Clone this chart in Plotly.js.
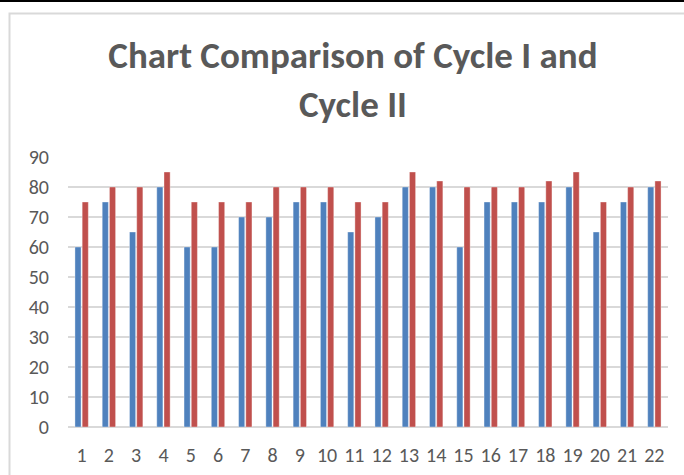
<!DOCTYPE html>
<html>
<head>
<meta charset="utf-8">
<script src="https://cdn.plot.ly/plotly-3.0.1.min.js"></script>
<style>
html,body{margin:0;padding:0;background:#fff;}
#chart{width:684px;height:475px;}
</style>
</head>
<body>
<div id="chart"></div>
<script>
const categories = ["1","2","3","4","5","6","7","8","9","10","11","12","13","14","15","16","17","18","19","20","21","22"];
const cycle1 = [60,75,65,80,60,60,70,70,75,75,65,70,80,80,60,75,75,75,80,65,75,80];
const cycle2 = [75,80,80,85,75,75,75,80,80,80,75,75,85,82,80,80,80,82,85,75,80,82];
const yTicks = [0,10,20,30,40,50,60,70,80,90];

const FONT = "Carlito, Lato, 'Open Sans', sans-serif";
const TXT = "#595959";

const traces = [
  {type:"bar", name:"Cycle I", x:categories, y:cycle1,
   marker:{color:"#4F81BD", line:{color:"rgba(255,255,255,0.6)", width:0.6}}},
  {type:"bar", name:"Cycle II", x:categories, y:cycle2,
   marker:{color:"#C0504D", line:{color:"rgba(255,255,255,0.6)", width:0.6}}}
];

const layout = {
  width:684, height:475,
  margin:{l:68, r:16, t:157, b:48},
  paper_bgcolor:"#ffffff", plot_bgcolor:"#ffffff",
  showlegend:false,
  barmode:"group", bargap:0.47, bargroupgap:0.15,
  title:{text:"<b>Chart Comparison of Cycle I and<br>Cycle II</b>",
    font:{family:FONT, size:37, color:TXT},
    x:0.516, xanchor:"center", y:0.856, yanchor:"top", yref:"container"},
  xaxis:{type:"category", tickfont:{family:FONT, size:20, color:TXT},
    showgrid:false, showline:false, zeroline:false, ticks:"", ticklabelstandoff:14},
  yaxis:{range:[0,90], tickvals:yTicks, tickfont:{family:FONT, size:20, color:TXT},
    showgrid:true, gridcolor:"#d9d9d9", gridwidth:1.5, zeroline:true, zerolinecolor:"#d9d9d9", zerolinewidth:1.5,
    showline:false, ticks:"", ticklabelstandoff:18},
  shapes:[
    {type:"line", xref:"paper", yref:"paper", x0:-0.2, x1:1.2, y0:(427-1)/270, y1:(427-1)/270,
     line:{color:"#000000", width:2}},
    {type:"rect", xref:"paper", yref:"paper", x0:(9.5-68)/600, x1:1.2, y0:-0.5, y1:(427-13.5)/270,
     line:{color:"#d9d9d9", width:2}, fillcolor:"rgba(0,0,0,0)", layer:"below"}
  ]
};

Plotly.newPlot("chart", traces, layout, {displayModeBar:false, staticPlot:true});
</script>
</body>
</html>
